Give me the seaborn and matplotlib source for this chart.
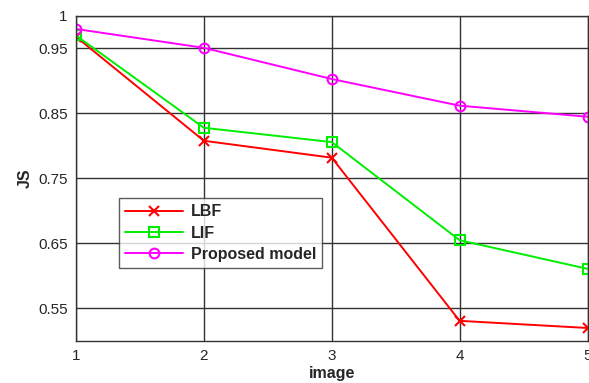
import numpy as np
import pandas as pd
import seaborn as sns
from matplotlib import pyplot as plt

images = [1, 2, 3, 4, 5]
lbf = [0.968, 0.808, 0.782, 0.531, 0.520]
lif = [0.970, 0.828, 0.806, 0.655, 0.611]
proposed = [0.980, 0.951, 0.903, 0.862, 0.845]

series = {"LBF": lbf, "LIF": lif, "Proposed model": proposed}
colors = {"LBF": "#ff0000", "LIF": "#00ee00", "Proposed model": "#ff00ff"}
markers = {"LBF": "x", "LIF": "s", "Proposed model": "o"}

df = pd.concat([pd.DataFrame({"image": images, "JS": v, "method": k}) for k, v in series.items()])

sns.set_style("white")
plt.rcParams['font.family'] = ['Liberation Sans', 'DejaVu Sans']

fig = plt.figure(figsize=(5.89, 3.83), dpi=100)
ax = fig.add_axes([0.129, 0.1097, 0.8685, 0.8486])

for name in series:
    sub = df[df["method"] == name]
    sns.lineplot(data=sub, x="image", y="JS", ax=ax, color=colors[name], marker=markers[name],
                 markersize=7, markerfacecolor="none",
                 markeredgecolor=colors[name], markeredgewidth=1.5, linewidth=1.4, label=name)

ax.set_xlim(1, 5)
ax.set_ylim(0.5, 1.0)
ax.set_xticks(images)
ax.set_yticks([0.55, 0.65, 0.75, 0.85, 0.95, 1.0])
ax.set_yticklabels(["0.55", "0.65", "0.75", "0.85", "0.95", "1"])
ax.grid(True, color="#333333", linewidth=1.0)
ax.set_axisbelow(True)
for s in ax.spines.values():
    s.set_color("#333333")
    s.set_linewidth(1.0)
ax.tick_params(axis="both", labelsize=11, length=0, pad=6)
ax.set_xlabel("image", fontsize=11.5, fontweight="bold", labelpad=2)
ax.set_ylabel("JS", fontsize=11.5, fontweight="bold", labelpad=4)

leg = ax.legend(loc="lower left", bbox_to_anchor=(0.068, 0.20), fancybox=False,
                frameon=True, prop={"weight": "bold", "size": 11.5}, handlelength=3.6,
                borderpad=0.4, labelspacing=0.38, handletextpad=0.5)
leg.get_frame().set_edgecolor("#333333")
leg.get_frame().set_linewidth(1.0)

fig.savefig("out.png", dpi=100)
